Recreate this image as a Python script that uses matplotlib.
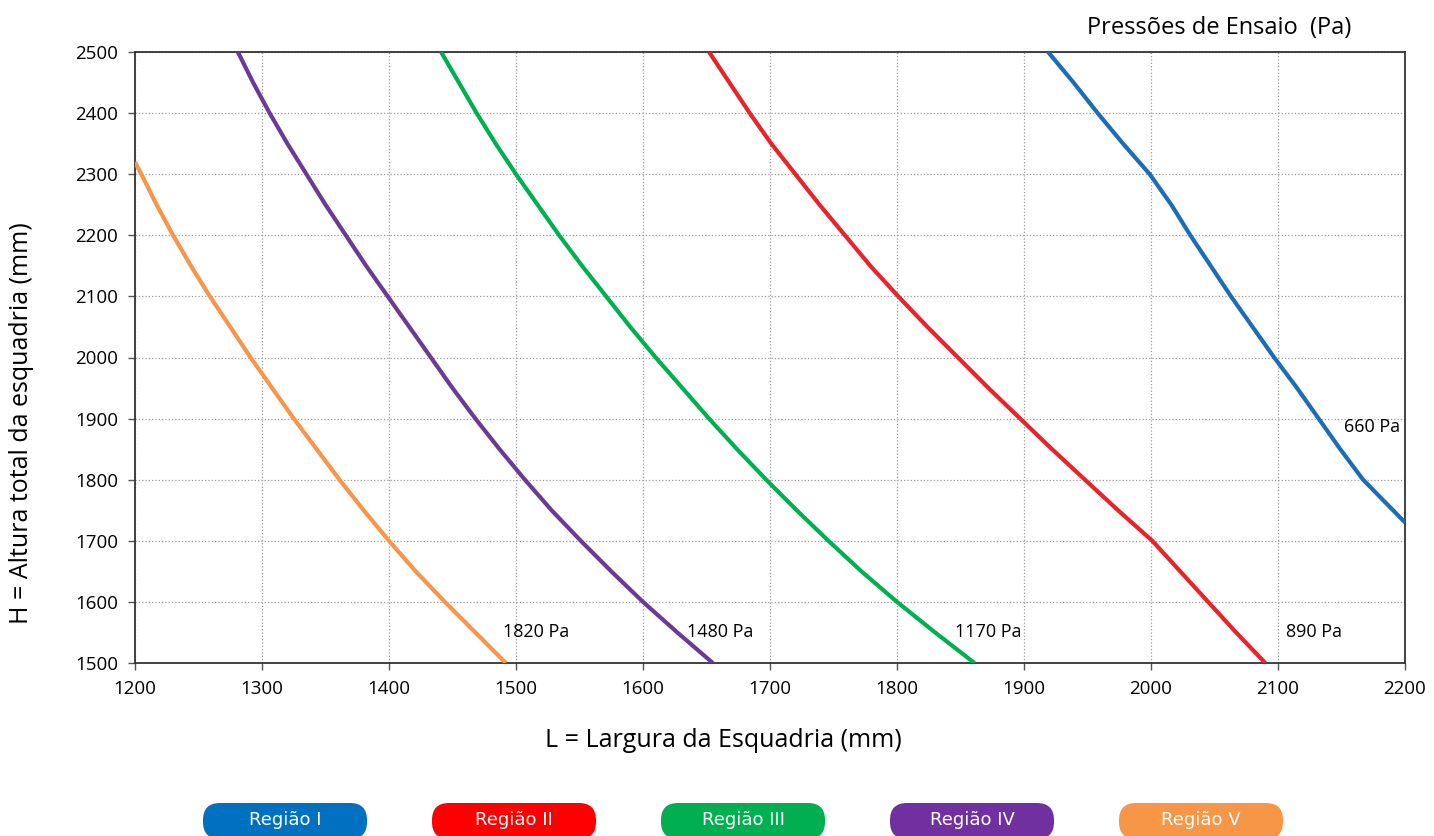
import matplotlib
matplotlib.use("Agg")
import matplotlib.pyplot as plt
from matplotlib.patches import FancyBboxPatch

plt.rcParams['font.family'] = ['Open Sans', 'DejaVu Sans']

# H (altura, mm) read every 50 mm, L (largura, mm)
h_660 = [2500, 2450, 2400, 2350, 2300, 2250, 2200, 2150, 2100, 2050, 2000, 1950, 1900, 1850, 1800, 1730]
l_660 = [1919, 1939, 1958, 1978, 1999, 2016, 2031, 2047, 2063, 2080, 2097, 2115, 2132, 2149, 2167, 2200]

h_890 = [2500, 2450, 2400, 2350, 2300, 2250, 2200, 2150, 2100, 2050, 2000,
         1950, 1900, 1850, 1800, 1750, 1700, 1650, 1600, 1550, 1500]
l_890 = [1652, 1668, 1684, 1701, 1720, 1739, 1759, 1779, 1801, 1824, 1848,
         1872, 1897, 1922, 1948, 1974, 2001, 2023, 2045, 2067, 2090]

h_1170 = [2500, 2450, 2400, 2350, 2300, 2250, 2200, 2150, 2100, 2050, 2000,
          1950, 1900, 1850, 1800, 1750, 1700, 1650, 1600, 1550, 1500]
l_1170 = [1441, 1455, 1469, 1484, 1500, 1517, 1534, 1552, 1571, 1590, 1610,
          1631, 1652, 1674, 1697, 1721, 1746, 1772, 1800, 1830, 1861]

h_1480 = [2500, 2450, 2400, 2350, 2300, 2250, 2200, 2150, 2100, 2050, 2000,
          1950, 1900, 1850, 1800, 1750, 1700, 1650, 1600, 1550, 1500]
l_1480 = [1281, 1293, 1306, 1320, 1335, 1350, 1366, 1382, 1399, 1416, 1433,
          1450, 1468, 1487, 1507, 1528, 1551, 1575, 1600, 1627, 1655]

h_1820 = [2320, 2300, 2250, 2200, 2150, 2100, 2050, 2000, 1950, 1900, 1850,
          1800, 1750, 1700, 1650, 1600, 1550, 1500]
l_1820 = [1200, 1205, 1217, 1230, 1244, 1259, 1275, 1291, 1308, 1325, 1343,
          1361, 1380, 1400, 1421, 1444, 1468, 1492]

curve_labels = ["660 Pa", "890 Pa", "1170 Pa", "1480 Pa", "1820 Pa"]
label_pos = [(2152, 1887), (2106, 1550), (1846, 1550), (1635, 1550), (1490, 1550)]
regioes = ["Região I", "Região II", "Região III", "Região IV", "Região V"]

line_colors = ["#1b6db5", "#e8232a", "#00b050", "#6b3a96", "#f7964a"]
pill_colors = ["#0070c0", "#ff0000", "#00b050", "#7030a0", "#f79646"]

fig = plt.figure(figsize=(14.34, 8.36), dpi=100)
ax = fig.add_axes([135/1434, 1-663/836, 1270/1434, 611/836])

series = [(l_660, h_660), (l_890, h_890), (l_1170, h_1170), (l_1480, h_1480), (l_1820, h_1820)]
for (l, h), c in zip(series, line_colors):
    ax.plot(l, h, color=c, lw=3, solid_capstyle='butt', solid_joinstyle='round', zorder=3)

for txt, (x, y) in zip(curve_labels, label_pos):
    ax.text(x, y, txt, fontsize=13, va='center', ha='left', zorder=4)

ax.set_xlim(1200, 2200)
ax.set_ylim(1500, 2500)
ax.set_xticks(range(1200, 2201, 100))
ax.set_yticks(range(1500, 2501, 100))
ax.tick_params(axis='both', labelsize=13.5, length=5, width=1, color='#555555', pad=7)
ax.grid(True, color='#999999', linestyle=':', linewidth=0.9)
for s in ax.spines.values():
    s.set_color('#333333')
    s.set_linewidth(1.3)

ax.set_xlabel('L = Largura da Esquadria (mm)', fontsize=18)
ax.set_ylabel('H = Altura total da esquadria (mm)', fontsize=18)
ax.xaxis.set_label_coords(0.463, -0.106)
ax.yaxis.set_label_coords(-0.0795, 0.393)
fig.text(1219/1434, 1-28/836, 'Pressões de Ensaio  (Pa)', fontsize=17, ha='center', va='center')

# legend pills drawn in pixel space
lg = fig.add_axes([0, 0, 1, 1], zorder=-1)
lg.set_xlim(0, 1434)
lg.set_ylim(836, 0)
lg.axis('off')
for i, (name, c) in enumerate(zip(regioes, pill_colors)):
    x0 = 203 + i * 229
    lg.add_patch(FancyBboxPatch((x0, 803), 164, 36, boxstyle="round,pad=0,rounding_size=17",
                                fc=c, ec='none'))
    lg.text(x0 + 82, 820, name, color='white', fontsize=13, ha='center', va='center',
            family=['Liberation Sans Narrow', 'DejaVu Sans'])

fig.savefig('out.png', dpi=100)
